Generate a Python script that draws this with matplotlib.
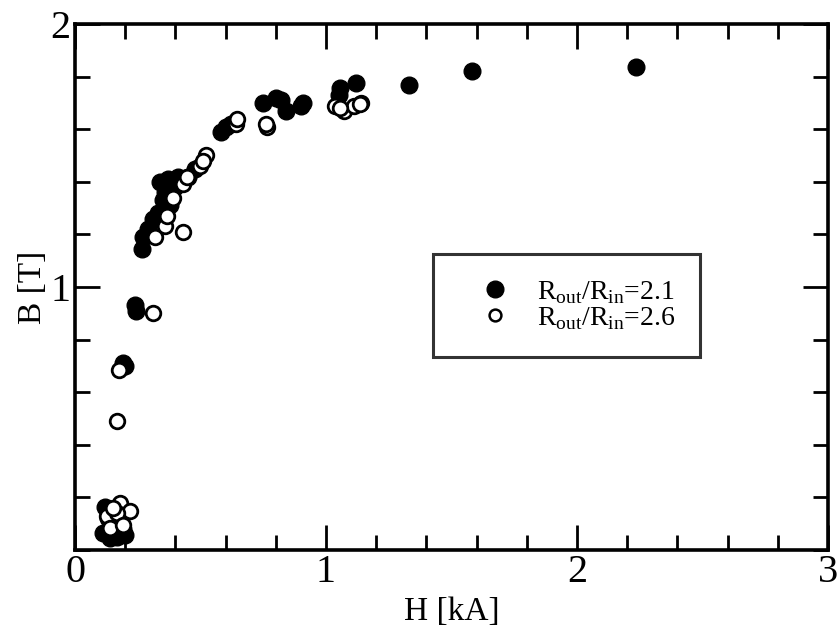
import matplotlib
matplotlib.use("Agg")
import matplotlib.pyplot as plt
from matplotlib.lines import Line2D
from matplotlib.ticker import MultipleLocator

plt.rcParams['font.family'] = ['Liberation Serif', 'DejaVu Serif']
plt.rcParams['mathtext.fontset'] = 'custom'
plt.rcParams['mathtext.rm'] = 'Liberation Serif'

# magnetisation data: H in kA, B in T
h_21 = [0.12, 0.15, 0.11, 0.14, 0.20, 0.167, 0.13, 0.19,
        0.19, 0.20, 0.24, 0.245,
        0.265, 0.27, 0.29, 0.31, 0.33, 0.35, 0.36, 0.38, 0.37, 0.41, 0.34, 0.40, 0.45, 0.48,
        0.58, 0.60, 0.62,
        0.75, 0.82, 0.80, 0.84, 0.90, 0.91,
        1.05, 1.056, 1.12,
        1.33, 1.58, 2.235]
b_21 = [0.165, 0.10, 0.065, 0.045, 0.057, 0.05, 0.12, 0.08,
        0.71, 0.70, 0.93, 0.91,
        1.145, 1.19, 1.22, 1.26, 1.28, 1.33, 1.36, 1.31, 1.41, 1.42, 1.40, 1.38, 1.42, 1.45,
        1.59, 1.61, 1.62,
        1.70, 1.71, 1.72, 1.67, 1.69, 1.70,
        1.73, 1.756, 1.775,
        1.767, 1.82, 1.836]

h_26 = [0.18, 0.22, 0.127, 0.167, 0.14, 0.19, 0.15,
        0.167, 0.175,
        0.31,
        0.32, 0.36, 0.43, 0.365, 0.39, 0.43, 0.445, 0.50, 0.52, 0.51,
        0.64, 0.645,
        0.765, 0.76,
        1.036, 1.07, 1.11, 1.14, 1.056, 1.135]
b_26 = [0.18, 0.15, 0.13, 0.14, 0.085, 0.095, 0.16,
        0.49, 0.685,
        0.90,
        1.19, 1.23, 1.21, 1.27, 1.34, 1.39, 1.42, 1.46, 1.50, 1.48,
        1.62, 1.64,
        1.61, 1.62,
        1.69, 1.67, 1.69, 1.70, 1.68, 1.695]

fig = plt.figure(figsize=(8.38, 6.41), dpi=100)
ax = fig.add_axes([0.0895, 0.142, 0.8985, 0.8206])

ax.plot(h_21, b_21, 'o', ms=12, mfc='black', mec='black', mew=1, ls='none')
ax.plot(h_26, b_26, 'o', ms=10.5, mfc='white', mec='black', mew=2.0, ls='none')

ax.set_xlim(0, 3)
ax.set_ylim(0, 2)
ax.xaxis.set_major_locator(MultipleLocator(1))
ax.xaxis.set_minor_locator(MultipleLocator(0.2))
ax.yaxis.set_major_locator(MultipleLocator(1))
ax.yaxis.set_minor_locator(MultipleLocator(0.2))
ax.set_yticks([1, 2])
ax.set_yticklabels(['1', '2'])

ax.tick_params(which='both', direction='in', top=True, right=True,
               width=2.0, labelsize=29, pad=3)
ax.tick_params(which='major', length=18)
ax.tick_params(which='minor', length=11)
for sp in ax.spines.values():
    sp.set_linewidth(2.6)

ax.set_xlabel('H [kA]', fontsize=24, labelpad=4)
ax.set_ylabel('B [T]', fontsize=24, labelpad=2)

handles = [
    Line2D([], [], marker='o', ls='none', ms=12, mfc='black', mec='black'),
    Line2D([], [], marker='o', ls='none', ms=8.5, mfc='white', mec='black', mew=1.8),
]
labels = [r'R$_{\rm out}$/R$_{\rm in}$=2.1', r'R$_{\rm out}$/R$_{\rm in}$=2.6']
leg = ax.legend(handles, labels, loc='upper left', bbox_to_anchor=(0.475, 0.563),
                fontsize=20, frameon=True, fancybox=False, borderpad=0.9,
                handlelength=2.66, handletextpad=0.2, labelspacing=-0.03,
                borderaxespad=0)
leg.get_frame().set_edgecolor('black')
leg.get_frame().set_linewidth(2.2)

fig.savefig('out.png', dpi=100)
